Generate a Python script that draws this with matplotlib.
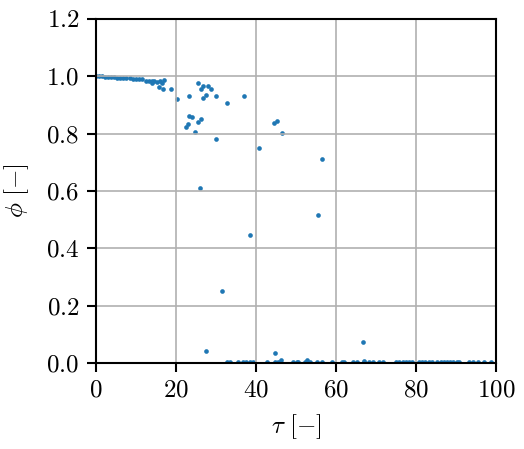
import matplotlib
matplotlib.use("Agg")
import matplotlib.pyplot as plt

plt.rcParams['font.family'] = 'serif'
plt.rcParams['font.serif'] = ['cmr10']
plt.rcParams['mathtext.fontset'] = 'cm'
plt.rcParams['axes.formatter.use_mathtext'] = True
plt.rcParams['font.size'] = 12

# plateau near phi = 1
tau_top = [0, 0.7, 1.5, 2.2, 3, 3.75, 4.5, 5.2, 6, 6.8, 7.6, 8.5, 9.3, 10, 10.8, 11.6, 12.4,
           13.2, 13.9, 13.9, 14.6, 15.2, 16, 16.4, 17, 15.75, 16.8, 18.75, 20.2]
phi_top = [1.0, 1.0, 1.0, 0.999, 0.998, 0.997, 0.996, 0.995, 0.995, 0.994, 0.993, 0.993, 0.991,
           0.989, 0.989, 0.989, 0.985, 0.984, 0.982, 0.977, 0.983, 0.98, 0.985, 0.978, 0.987,
           0.964, 0.956, 0.957, 0.920]

# scattered transition points
tau_mid = [23.3, 25.6, 26.8, 26.25, 28.1, 28.7, 27.4, 26.7, 30, 32.8, 37, 23.25, 23.9, 26.25,
           25.6, 23.1, 22.4, 24.75, 30, 26, 40.8, 44.5, 45.2, 46.6, 56.4, 55.4, 38.5, 31.4,
           27.4, 44.75, 66.75, 46.25, 52.8, 66.9]
phi_mid = [0.931, 0.977, 0.967, 0.956, 0.967, 0.957, 0.936, 0.925, 0.932, 0.907, 0.932, 0.862,
           0.859, 0.851, 0.841, 0.835, 0.822, 0.807, 0.781, 0.611, 0.750, 0.838, 0.844, 0.801,
           0.710, 0.516, 0.445, 0.252, 0.043, 0.034, 0.072, 0.010, 0.012, 0.008]

# points close to phi = 0
tau_low = [32.7, 33.5, 35.5, 36.8, 37.6, 38.5, 39.3, 42.7, 44.75, 45.6, 49.3, 50.2, 50.6, 52.3,
           52.8, 53.5, 55.2, 56.4, 58.9, 61.4, 62, 64.3, 65.2, 66.9, 68.1, 69.3, 70.6, 71.8,
           75, 75.8, 76.6, 77.4, 78.2, 79, 80.7, 81.5, 82.3, 83.2, 84, 85.3, 86.1, 86.9, 87.7,
           88.5, 89.3, 90.1, 90.7, 93.3, 94.1, 95.4, 97, 98.7]
phi_low = [0.003] * len(tau_low)

tau = tau_top + tau_mid + tau_low
phi = phi_top + phi_mid + phi_low

fig = plt.figure(figsize=(524 / 150, 449 / 150), dpi=150)
ax = fig.add_axes([0.183, 0.1915, 0.764, 0.7665])
ax.scatter(tau, phi, s=5, color='#1f77b4', linewidths=0)
ax.set_xlim(0, 100)
ax.set_ylim(0, 1.2)
ax.set_xticks([0, 20, 40, 60, 80, 100])
ax.set_yticks([0, 0.2, 0.4, 0.6, 0.8, 1.0, 1.2])
ax.grid(True, color='#b0b0b0', linewidth=0.8)
ax.tick_params(length=4.5, width=1, labelsize=12)
for sp in ax.spines.values():
    sp.set_linewidth(1)
ax.set_xlabel(r'$\tau\ [-]$', fontsize=12, labelpad=5)
ax.set_ylabel(r'$\phi\ [-]$', fontsize=12, labelpad=7)

fig.savefig('out.png', dpi=150)
